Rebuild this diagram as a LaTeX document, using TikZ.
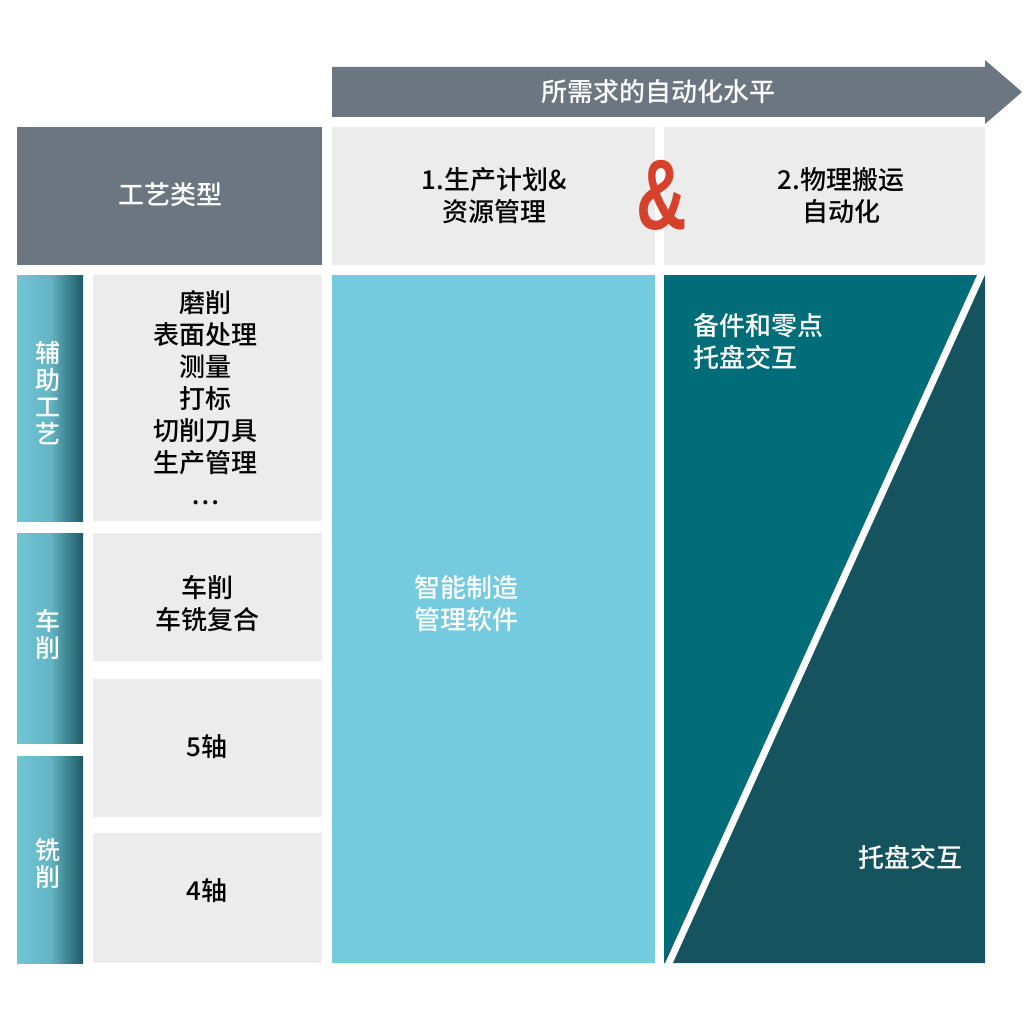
\documentclass[tikz,border=0pt]{standalone}
\usepackage{fontspec}
\setmainfont{Noto Sans CJK SC Medium}
\newfontfamily\ampfont{Liberation Sans}
\usepackage{tkz-euclide}
\definecolor{headgray}{HTML}{6B7680}
\definecolor{cellgray}{HTML}{ECECEC}
\definecolor{softblue}{HTML}{74CADF}
\definecolor{deepteal}{HTML}{006D79}
\definecolor{darkteal}{HTML}{15535F}
\definecolor{tabL}{HTML}{70C5D5}
\definecolor{tabR}{HTML}{1E5A66}
\definecolor{ampred}{HTML}{D6412C}
\pgfdeclarehorizontalshading{tabshade}{100bp}{color(0bp)=(tabL); color(25bp)=(tabL); color(50bp)=(tabL!85!tabR); color(75bp)=(tabR); color(100bp)=(tabR)}
\begin{document}
\begin{tikzpicture}[x=1pt,y=-1pt,
  head/.style={fill=headgray},
  cell/.style={fill=cellgray},
  tab/.style={shading=tabshade},
  txt/.style={font=\fontsize{26}{32}\selectfont,align=center},
  tabtxt/.style={font=\fontsize{25}{27}\selectfont,align=center,white}]
\useasboundingbox (0,0) rectangle (1024,1024);
\fill[headgray] (332,67) -- (985,67) -- (985,60) -- (1022,92) -- (985,124) -- (985,117) -- (332,117) -- cycle;
\fill[head] (17,127) rectangle (322,265);
\fill[cell] (332,127) rectangle (655,265);
\fill[cell] (664,127) rectangle (985,265);
\shade[tab] (17,275) rectangle (83,521);
\shade[tab] (17,533) rectangle (83,743);
\shade[tab] (17,756) rectangle (83,963);
\fill[cell] (93,275) rectangle (322,521);
\fill[cell] (93,533) rectangle (322,661);
\fill[cell] (93,679) rectangle (322,817);
\fill[cell] (93,833) rectangle (322,963);
\fill[softblue] (332,275) rectangle (655,963);
\tkzDefPoint(664,275){A}
\tkzDefPoint(985,275){B}
\tkzDefPoint(985,963){C}
\tkzDefPoint(664,963){D}
\tkzDefPoint(669,963){E}
\tkzDefPoint(981,275){F}
\begin{scope}
\clip (A) rectangle (C);
\tkzFillPolygon[color=darkteal](A,B,C,D)
\tkzFillPolygon[color=deepteal](A,B,D)
\draw[white,line width=7pt] ($(E)!-0.1!(F)$) -- ($(F)!-0.1!(E)$);
\end{scope}
\node[txt,white] (level) at (658,92) {所需求的自动化水平};
\node[txt,white] (kind) at (170,195) {工艺类型};
\node[txt] (plan) at (494,196) {1.生产计划\&\\资源管理};
\node[font=\ampfont\bfseries\fontsize{100}{100}\selectfont,text=ampred,xscale=0.7] (amp) at (662,195) {\&};
\node[txt] (move) at (841,196) {2.物理搬运\\自动化};
\node[tabtxt] (aux) at (48,393) {辅\\助\\工\\艺};
\node[tabtxt] (turn) at (48,634) {车\\削};
\node[tabtxt] (mill) at (48,864) {铣\\削};
\node[txt] (auxlist) at (205,398) {磨削\\表面处理\\测量\\打标\\切削刀具\\生产管理\\…};
\node[txt] (turnlist) at (207,604) {车削\\车铣复合};
\node[txt] (five) at (207,747) {5轴};
\node[txt] (four) at (207,891) {4轴};
\node[txt,white] (soft) at (466,604) {智能制造\\管理软件};
\node[txt,white,align=left,anchor=west] (spare) at (690,342) {备件和零点\\托盘交互};
\node[txt,white] (pallet) at (910,857) {托盘交互};
\end{tikzpicture}
\end{document}
